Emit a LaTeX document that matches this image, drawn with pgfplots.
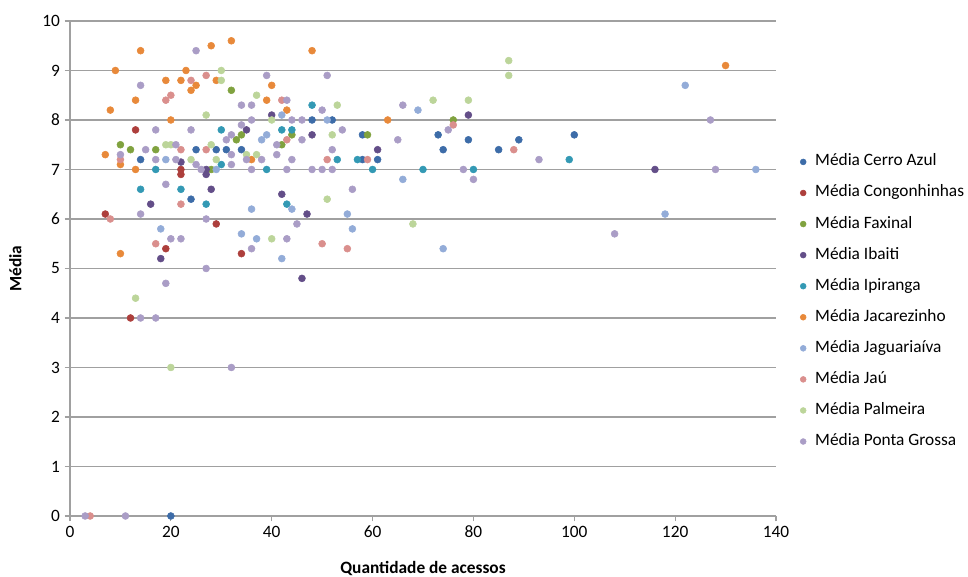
\documentclass[border=0pt]{standalone}
\usepackage{fontspec}
\setmainfont{Carlito}
\usepackage{pgfplots}
\pgfplotsset{compat=1.18}
\definecolor{c1}{HTML}{3D6CA8}
\definecolor{c2}{HTML}{AD3F3C}
\definecolor{c3}{HTML}{80A23F}
\definecolor{c4}{HTML}{634E88}
\definecolor{c5}{HTML}{3399B4}
\definecolor{c6}{HTML}{E8893A}
\definecolor{c7}{HTML}{93ACD8}
\definecolor{c8}{HTML}{DA8F8D}
\definecolor{c9}{HTML}{BCD59A}
\definecolor{c10}{HTML}{AA9DC6}
\definecolor{gridc}{RGB}{160,160,160}
\begin{document}
\begin{tikzpicture}
\useasboundingbox (-52.5pt,-45.75pt) rectangle (673.5pt,387pt);
\begin{axis}[
  at={(0,0)}, anchor=south west,
  scale only axis, width=529.5pt, height=371.25pt,
  xmin=0, xmax=140, ymin=0, ymax=10,
  xtick={0,20,...,140}, ytick={0,1,...,10},
  axis x line*=bottom, axis y line*=left,
  axis line style={-, draw=gridc, line width=0.9pt},
  ymajorgrids, grid style={draw=gridc, line width=0.9pt},
  tick style={draw=gridc, line width=0.9pt},
  tick align=outside, major tick length=4pt,
  clip=false,
  font=\fontsize{13pt}{15pt}\selectfont,
  tick label style={font=\fontsize{13pt}{15pt}\selectfont},
  /pgf/number format/assume math mode=true,
  xlabel={\textbf{Quantidade de acessos}},
  ylabel={\textbf{Média}},
  xlabel style={at={(axis description cs:0.5,-0.083)}, anchor=north, font=\fontsize{13pt}{15pt}\selectfont},
  ylabel style={at={(axis description cs:-0.062,0.5)}, anchor=south, rotate=0, font=\fontsize{13pt}{15pt}\selectfont},
  legend style={at={(rel axis cs:1.034,0.732)}, anchor=north west, draw=none, fill=none,
    inner sep=0pt, row sep=11.3pt, column sep=6.8pt,
    nodes={inner sep=0pt, text height=9pt, text depth=3pt},
    font=\fontsize{13pt}{15pt}\selectfont},
  legend cell align=left,
  legend image code/.code={\draw[#1, mark size=2.2pt] plot coordinates {(0pt,0pt)};},
  every axis plot/.append style={only marks, mark=*, mark size=2.6pt},
]
\addplot[c1, mark options={fill=c1, draw=c1}] coordinates {(20,0) (14,7.2) (25,7.4) (29,7.4) (31,7.4) (34,7.4) (24,6.4) (48,8.0) (52,8.0) (58,7.7) (58,7.2) (61,7.2) (73,7.7) (74,7.4) (79,7.6) (85,7.4) (89,7.6) (100,7.7)};
\addlegendentry{Média Cerro Azul}
\addplot[c2, mark options={fill=c2, draw=c2}] coordinates {(13,7.8) (22,7.0) (22,6.9) (7,6.1) (29,5.9) (19,5.4) (34,5.3) (12,4.0)};
\addlegendentry{Média Congonhinhas}
\addplot[c3, mark options={fill=c3, draw=c3}] coordinates {(32,8.6) (76,8.0) (34,7.7) (44,7.7) (59,7.7) (33,7.6) (10,7.5) (42,7.5) (12,7.4) (17,7.4) (28,7.0)};
\addlegendentry{Média Faxinal}
\addplot[c4, mark options={fill=c4, draw=c4}] coordinates {(40,8.1) (79,8.1) (35,7.8) (48,7.7) (61,7.4) (22,7.15) (27,7.0) (27,6.9) (116,7.0) (28,6.6) (42,6.5) (16,6.3) (47,6.1) (18,5.2) (46,4.8)};
\addlegendentry{Média Ibaiti}
\addplot[c5, mark options={fill=c5, draw=c5}] coordinates {(48,8.3) (30,7.8) (42,7.8) (44,7.8) (53,7.2) (57,7.2) (99,7.2) (30,7.1) (17,7.0) (39,7.0) (60,7.0) (70,7.0) (80,7.0) (14,6.6) (22,6.6) (27,6.3) (43,6.3)};
\addlegendentry{Média Ipiranga}
\addplot[c6, mark options={fill=c6, draw=c6}] coordinates {(32,9.6) (28,9.5) (14,9.4) (48,9.4) (130,9.1) (9,9.0) (23,9.0) (19,8.8) (22,8.8) (29,8.8) (25,8.7) (40,8.7) (24,8.6) (13,8.4) (39,8.4) (8,8.2) (43,8.2) (20,8.0) (63,8.0) (7,7.3) (36,7.2) (10,7.1) (13,7.0) (10,5.3)};
\addlegendentry{Média Jacarezinho}
\addplot[c7, mark options={fill=c7, draw=c7}] coordinates {(122,8.7) (69,8.2) (42,8.1) (51,8.0) (39,7.7) (38,7.6) (19,7.2) (29,7.0) (136,7.0) (66,6.8) (36,6.2) (44,6.2) (55,6.1) (118,6.1) (18,5.8) (56,5.8) (34,5.7) (37,5.6) (74,5.4) (42,5.2)};
\addlegendentry{Média Jaguariaíva}
\addplot[c8, mark options={fill=c8, draw=c8}] coordinates {(27,8.9) (24,8.8) (20,8.5) (19,8.4) (42,8.4) (76,7.9) (43,7.6) (22,7.4) (27,7.4) (88,7.4) (10,7.2) (51,7.2) (59,7.2) (22,6.3) (8,6.0) (17,5.5) (50,5.5) (55,5.4) (4,0)};
\addlegendentry{Média Jaú}
\addplot[c9, mark options={fill=c9, draw=c9}] coordinates {(87,9.2) (30,9.0) (87,8.9) (30,8.8) (37,8.5) (72,8.4) (79,8.4) (53,8.3) (27,8.1) (40,8.0) (52,7.7) (19,7.5) (20,7.5) (28,7.5) (35,7.3) (37,7.3) (24,7.2) (29,7.2) (51,6.4) (68,5.9) (40,5.6) (13,4.4) (20,3.0)};
\addlegendentry{Média Palmeira}
\addplot[c10, mark options={fill=c10, draw=c10}] coordinates {(25,9.4) (39,8.9) (51,8.9) (14,8.7) (43,8.4) (34,8.3) (36,8.3) (66,8.3) (50,8.2) (36,8.0) (44,8.0) (46,8.0) (127,8.0) (34,7.9) (17,7.8) (24,7.8) (54,7.8) (75,7.8) (32,7.7) (31,7.6) (46,7.6) (65,7.6) (21,7.5) (41,7.5) (15,7.4) (52,7.4) (10,7.3) (32,7.3) (41,7.3) (17,7.2) (21,7.2) (35,7.2) (38,7.2) (44,7.2) (93,7.2) (25,7.1) (32,7.1) (26,7.0) (36,7.0) (43,7.0) (48,7.0) (50,7.0) (52,7.0) (78,7.0) (128,7.0) (80,6.8) (19,6.7) (56,6.6) (14,6.1) (27,6.0) (45,5.9) (108,5.7) (20,5.6) (22,5.6) (43,5.6) (36,5.4) (27,5.0) (19,4.7) (14,4.0) (17,4.0) (32,3.0) (3,0) (11,0)};
\addlegendentry{Média Ponta Grossa}
\end{axis}
\end{tikzpicture}
\end{document}
